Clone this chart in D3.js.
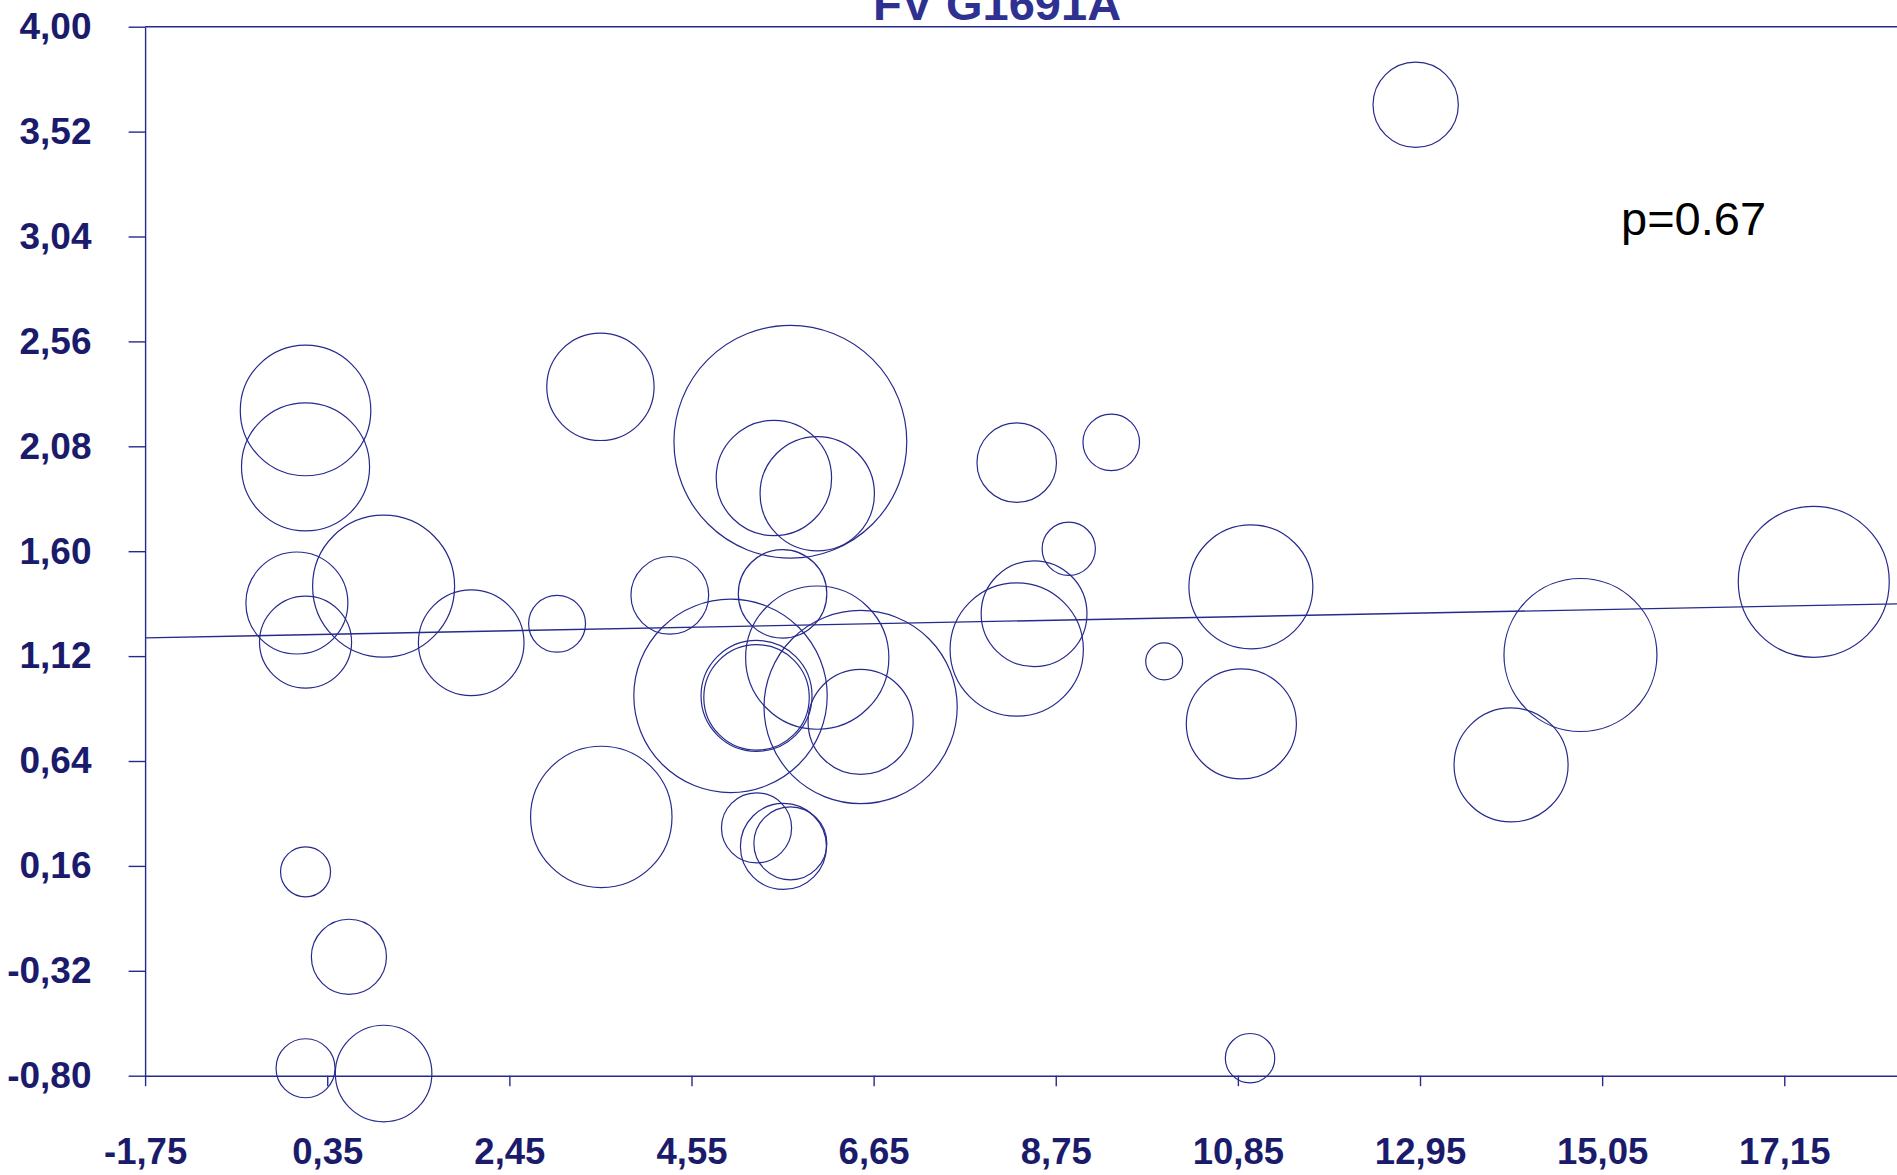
<!DOCTYPE html>
<html>
<head>
<meta charset="utf-8">
<title>FV G1691A</title>
<script src="https://cdn.jsdelivr.net/npm/d3@7"></script>
<style>
  html, body { margin: 0; padding: 0; background: #ffffff; overflow: hidden; }
  svg { display: block; }
  text { font-family: "Liberation Sans", Arial, Helvetica, sans-serif; }
</style>
</head>
<body>
<svg id="chart" width="1897" height="1175"></svg>
<script>
// Meta-regression bubble plot: study covariate vs. effect size, bubble area ~ study weight
const chartTitle = "FV G1691A";
const pLabel = "p=0.67";

const studyX = [12.90, 0.10, 0.10, 0.00, 0.10, 1.00, 2.01, 3.00, 3.50, 4.30,
                3.51, 5.69, 5.50, 6.00, 5.60, 5.00, 5.30, 5.30, 6.00, 6.50,
                6.50, 5.30, 5.61, 5.69, 8.30, 9.39, 8.90, 8.50, 8.30, 10.00,
                11.00, 10.89, 10.99, 14.80, 14.00, 17.49, 0.10, 0.60, 0.10, 1.00];
const studyY = [3.643, 2.244, 1.986, 1.363, 1.184, 1.440, 1.181, 1.268, 2.352, 1.398,
                0.384, 2.101, 1.935, 1.863, 1.405, 0.938, 0.938, 0.931, 1.113, 0.887,
                0.819, 0.334, 0.249, 0.263, 2.005, 2.098, 1.611, 1.314, 1.150, 1.096,
                1.437, 0.810, -0.720, 1.125, 0.622, 1.460, 0.133, -0.256, -0.766, -0.790];
const studyWeight = [18.2, 42.6, 41.0, 26.0, 21.2, 50.4, 27.9, 8.1, 28.8, 15.1,
                     50.0, 135.5, 33.3, 32.7, 19.6, 93.5, 30.8, 27.8, 51.3, 93.3,
                     27.6, 12.3, 18.5, 13.3, 15.8, 8.0, 7.1, 28.0, 44.4, 3.4,
                     38.4, 30.3, 6.1, 58.5, 32.5, 57.0, 6.25, 14.1, 8.7, 23.3];

// Fitted meta-regression line: y = intercept + slope * x
const regIntercept = 1.217;
const regSlope = 0.0077;

// Axis extent and tick labels
const xDomain = [-1.75, 19.25];
const xTicks = [-1.75, 0.35, 2.45, 4.55, 6.65, 8.75, 10.85, 12.95, 15.05, 17.15];
const yTicks = [-0.80, -0.32, 0.16, 0.64, 1.12, 1.60, 2.08, 2.56, 3.04, 3.52, 4.00];

const W = 1897, H = 1175;
const navy = "#262a8c";
const labelNavy = "#1b1b6b";

const svg = d3.select("#chart");

const x = d3.scaleLinear().domain(xDomain).range([145.1, 1966.4]);
const y = d3.scaleLinear().domain([yTicks[0], yTicks[yTicks.length - 1]]).range([1075.7, 26.7]);
const r = d3.scaleSqrt().domain([0, 100]).range([0, 100]);

const locale = d3.formatLocale({decimal: ",", thousands: ".", grouping: [3], currency: ["", ""], minus: "-"});
const fmt = locale.format(".2f");

// Top frame line
svg.append("line")
  .attr("x1", x(xDomain[0])).attr("x2", W)
  .attr("y1", y(yTicks[yTicks.length - 1])).attr("y2", y(yTicks[yTicks.length - 1]))
  .attr("stroke", navy).attr("stroke-width", 1.4);

// Y axis
const yAxis = svg.append("g")
  .attr("transform", `translate(${x(xDomain[0])},0)`)
  .call(d3.axisLeft(y).tickValues(yTicks).tickSize(16.5).tickSizeOuter(0).tickFormat(fmt));
yAxis.select(".domain").attr("stroke", navy).attr("stroke-width", 1.4);
yAxis.selectAll(".tick line").attr("stroke", navy).attr("stroke-width", 1.4);
yAxis.selectAll(".tick text")
  .attr("x", 91.5 - 145.1).attr("dy", null).attr("y", 11.8)
  .attr("fill", labelNavy).attr("font-size", 37).attr("font-weight", "bold")
  .attr("font-family", "'Liberation Sans', Arial, sans-serif");

// X axis
const xAxis = svg.append("g")
  .attr("transform", `translate(0,${y(yTicks[0])})`)
  .call(d3.axisBottom(x).tickValues(xTicks).tickSize(10.5).tickSizeOuter(0).tickFormat(fmt));
xAxis.select(".domain").attr("stroke", navy).attr("stroke-width", 1.4);
xAxis.selectAll(".tick line").attr("stroke", navy).attr("stroke-width", 1.4);
xAxis.selectAll(".tick text")
  .attr("dy", null).attr("y", 88)
  .attr("fill", labelNavy).attr("font-size", 36.5).attr("font-weight", "bold")
  .attr("font-family", "'Liberation Sans', Arial, sans-serif");

// Regression line across the visible range
const xEnd = x.invert(W);
const regData = [xDomain[0], xEnd].map(v => [v, regIntercept + regSlope * v]);
svg.append("path")
  .datum(regData)
  .attr("d", d3.line().x(d => x(d[0])).y(d => y(d[1])))
  .attr("fill", "none").attr("stroke", navy).attr("stroke-width", 1.4);

// Study bubbles
const studies = studyX.map((v, i) => ({x: v, y: studyY[i], w: studyWeight[i]}));
svg.append("g").selectAll("circle")
  .data(studies)
  .join("circle")
  .attr("cx", d => x(d.x))
  .attr("cy", d => y(d.y))
  .attr("r", d => r(d.w))
  .attr("fill", "none")
  .attr("stroke", navy)
  .attr("stroke-width", 1.2);

// Title (runs off the top edge)
svg.append("text")
  .attr("x", 997).attr("y", 20)
  .attr("text-anchor", "middle")
  .attr("font-size", 47).attr("font-weight", "bold")
  .attr("fill", "#2e3192")
  .text(chartTitle);

// p-value annotation
svg.append("text")
  .attr("x", 1621).attr("y", 235)
  .attr("font-size", 47)
  .attr("fill", "#000000")
  .text(pLabel);
</script>
</body>
</html>
